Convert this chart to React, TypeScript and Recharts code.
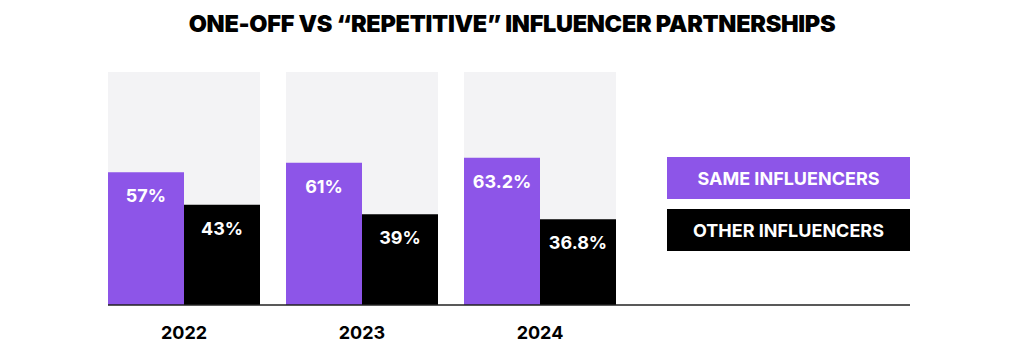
import { BarChart, Bar, XAxis, YAxis, LabelList, Legend } from 'recharts';

const years = ['2022', '2023', '2024'];
const sameInfluencers = [57, 61, 63.2];
const otherInfluencers = [43, 39, 36.8];
const seriesOrder = ['same', 'other'];

const PURPLE = '#8d55e8';
const BLACK = '#000000';
const PANEL = '#f3f3f5';
const FONT = 'Inter, "Noto Sans", sans-serif';

const data = years.map((year, i) => ({
  year,
  same: sameInfluencers[i],
  other: otherInfluencers[i],
}));

const renderLegend = (props: any) => {
  const payload = [...(props.payload || [])].sort(
    (a: any, b: any) => seriesOrder.indexOf(a.dataKey) - seriesOrder.indexOf(b.dataKey)
  );
  return (
    <div style={{ display: 'flex', flexDirection: 'column', gap: 10 }}>
      {payload.map((entry: any) => (
        <div
          key={entry.value}
          style={{
            background: entry.color,
            color: '#fff',
            height: 42,
            width: 243,
            display: 'flex',
            alignItems: 'center',
            justifyContent: 'center',
            fontFamily: FONT,
            fontWeight: 700,
            fontSize: 18,
          }}
        >
          {entry.value}
        </div>
      ))}
    </div>
  );
};

const fmt = (v: any) => `${v}%`;

export default function App() {
  return (
    <div style={{ position: 'absolute', left: 0, top: 0, width: 1024, height: 362, background: '#fff' }}>
      <div
        style={{
          position: 'absolute',
          top: 9,
          left: 0,
          width: 1024,
          textAlign: 'center',
          fontFamily: FONT,
          fontWeight: 900,
          fontSize: 23.5,
          letterSpacing: -0.3,
          color: '#000',
        }}
      >
        ONE-OFF VS “REPETITIVE” INFLUENCER PARTNERSHIPS
      </div>
      <BarChart
        width={1024}
        height={362}
        data={data}
        margin={{ top: 72, right: 114, bottom: 17, left: 108 }}
        barGap={0}
        barCategoryGap={13}
      >
        <XAxis
          dataKey="year"
          padding={{ left: -13, right: 281 }}
          height={40}
          tickLine={false}
          tickSize={0}
          tickMargin={21}
          axisLine={{ stroke: '#222', strokeWidth: 1.5 }}
          tick={{ fill: '#000', fontSize: 18, fontWeight: 700, fontFamily: FONT }}
        />
        <YAxis hide domain={[0, 100]} />
        <Legend
          layout="vertical"
          align="center"
          verticalAlign="middle"
          content={renderLegend}
          wrapperStyle={{ position: 'absolute', left: 667, top: 157, width: 243 }}
        />
        <Bar
          dataKey="same"
          name="SAME INFLUENCERS"
          fill={PURPLE}
          background={{ fill: PANEL }}
          isAnimationActive={false}
        >
          <LabelList
            dataKey="same"
            position="insideTop"
            offset={17}
            formatter={fmt}
            fill="#fff"
            style={{ fontSize: 18, fontWeight: 700, fontFamily: FONT }}
          />
        </Bar>
        <Bar
          dataKey="other"
          name="OTHER INFLUENCERS"
          fill={BLACK}
          background={{ fill: PANEL }}
          isAnimationActive={false}
        >
          <LabelList
            dataKey="other"
            position="insideTop"
            offset={17}
            formatter={fmt}
            fill="#fff"
            style={{ fontSize: 18, fontWeight: 700, fontFamily: FONT }}
          />
        </Bar>
      </BarChart>
    </div>
  );
}
